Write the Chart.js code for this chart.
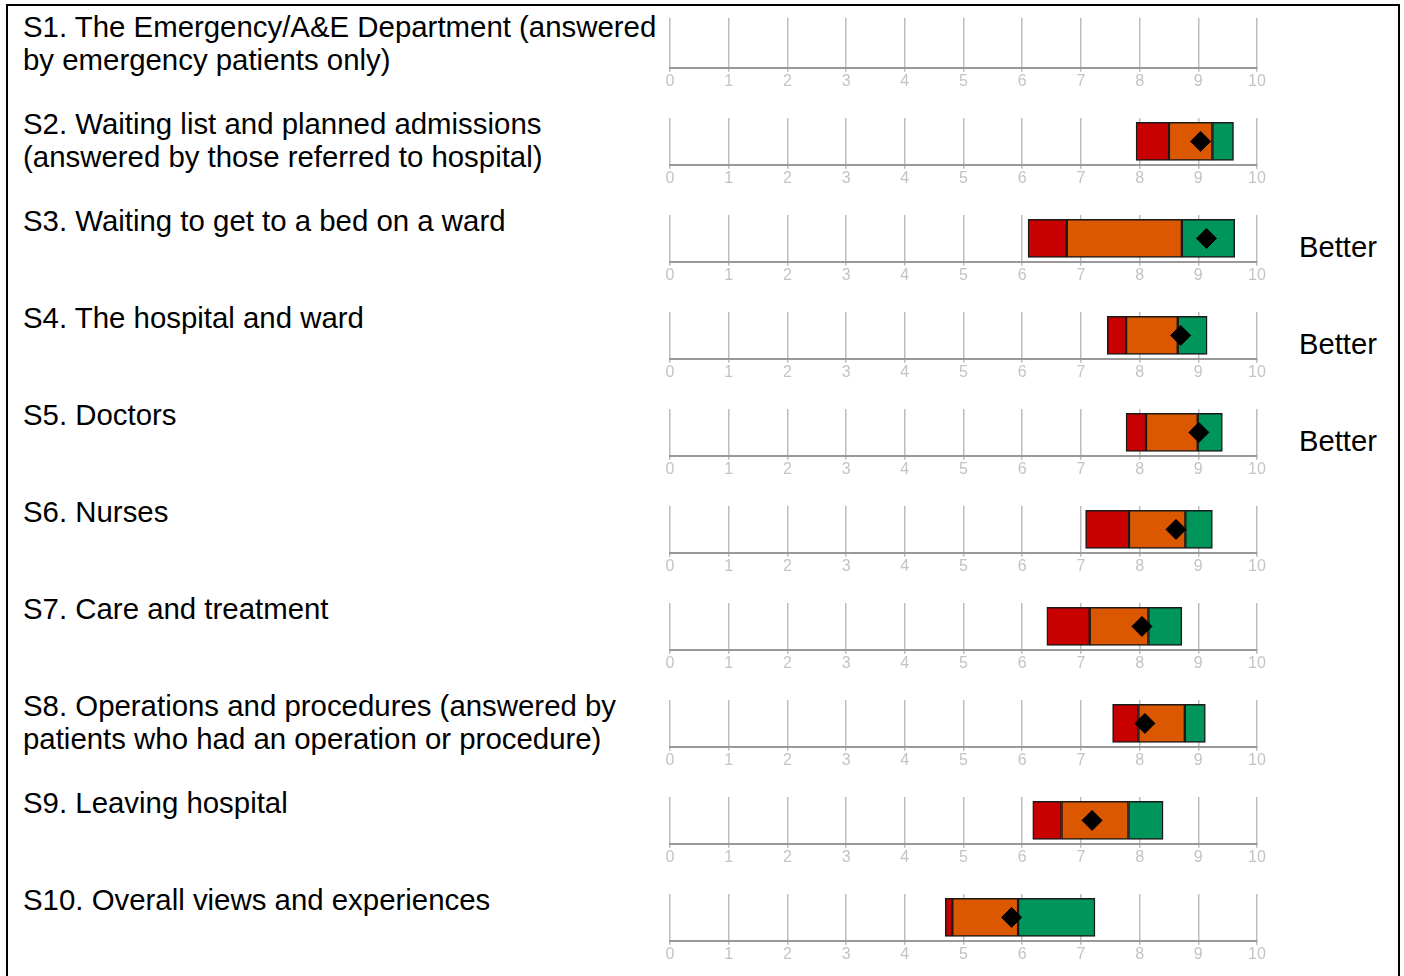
<!DOCTYPE html>
<html>
<head>
<meta charset="utf-8">
<script src="https://cdn.jsdelivr.net/npm/chart.js@4/dist/chart.umd.min.js"></script>
<style>
  html, body { margin: 0; padding: 0; background: #fff; }
  body { width: 1404px; height: 976px; position: relative; overflow: hidden; font-family: "Liberation Sans", Arial, sans-serif; }
  #frame { position: absolute; left: 6px; top: 4px; width: 1394px; height: 1000px; border: 2px solid #000; box-sizing: border-box; }
  .label { position: absolute; left: 23px; font-size: 29.4px; line-height: 33px; color: #000; white-space: nowrap; }
  .verdict { position: absolute; left: 1299px; font-size: 29.2px; line-height: 33px; color: #000; }
  .row-chart { position: absolute; left: 645px; width: 640px; height: 88px; }
</style>
</head>
<body>
<div id="frame"></div>
<div id="rows"></div>
<script>
// Section titles (each entry = lines as printed)
const sections = [
  ['S1. The Emergency/A&E Department (answered', 'by emergency patients only)'],
  ['S2. Waiting list and planned admissions', '(answered by those referred to hospital)'],
  ['S3. Waiting to get to a bed on a ward'],
  ['S4. The hospital and ward'],
  ['S5. Doctors'],
  ['S6. Nurses'],
  ['S7. Care and treatment'],
  ['S8. Operations and procedures (answered by', 'patients who had an operation or procedure)'],
  ['S9. Leaving hospital'],
  ['S10. Overall views and experiences'],
];

// Band edges on the 0-10 scale (S1 has no data)
const redStart    = [null, 7.94, 6.10, 7.45, 7.77, 7.08, 6.42, 7.54, 6.18, 4.69];
const orangeStart = [null, 8.50, 6.76, 7.77, 8.11, 7.82, 7.15, 7.98, 6.67, 4.81];
const greenStart  = [null, 9.24, 8.72, 8.65, 8.99, 8.78, 8.15, 8.77, 7.81, 5.93];
const greenEnd    = [null, 9.60, 9.62, 9.15, 9.41, 9.24, 8.72, 9.12, 8.40, 7.24];
const trustScore  = [null, 9.04, 9.14, 8.70, 9.01, 8.62, 8.04, 8.09, 7.19, 5.82];
const verdicts    = ['', '', 'Better', 'Better', 'Better', '', '', '', '', ''];

const xMin = 0, xMax = 10, xStep = 1;

const ROW_TOP = 18, ROW_PITCH = 97.1;
const RED = '#c80000', ORANGE = '#db5700', GREEN = '#00955a';

const rowsEl = document.getElementById('rows');

sections.forEach((lines, i) => {
  const top = ROW_TOP + ROW_PITCH * i;

  const lab = document.createElement('div');
  lab.className = 'label';
  lab.style.top = (top - 8.5) + 'px';
  lab.innerHTML = lines.join('<br>');
  rowsEl.appendChild(lab);

  if (verdicts[i]) {
    const v = document.createElement('div');
    v.className = 'verdict';
    v.style.top = (top + 35 - 16.5) + 'px';
    v.textContent = verdicts[i];
    rowsEl.appendChild(v);
  }

  const canvas = document.createElement('canvas');
  canvas.className = 'row-chart';
  canvas.style.top = (top - 8.5) + 'px';
  canvas.width = 640;
  canvas.height = 88;
  rowsEl.appendChild(canvas);

  const datasets = [];
  if (trustScore[i] != null) {
    datasets.push({
      type: 'line',
      indexAxis: 'y',
      data: [trustScore[i]],
      showLine: false,
      pointStyle: 'rectRot',
      pointRadius: 10,
      pointHoverRadius: 10,
      pointBackgroundColor: '#000',
      pointBorderColor: '#000',
      pointBorderWidth: 1,
      order: 0,
    });
    const bands = [
      [redStart[i], orangeStart[i], RED],
      [orangeStart[i], greenStart[i], ORANGE],
      [greenStart[i], greenEnd[i], GREEN],
    ];
    bands.forEach(([a, b, c]) => {
      datasets.push({
        type: 'bar',
        data: [[a, b]],
        backgroundColor: c,
        borderColor: '#1a1a1a',
        borderWidth: 1.5,
        borderSkipped: false,
        barThickness: 38,
        grouped: false,
        order: 1,
      });
    });
  }

  new Chart(canvas.getContext('2d'), {
    type: 'bar',
    data: { labels: [sections[i][0]], datasets },
    options: {
      indexAxis: 'y',
      responsive: false,
      animation: false,
      events: [],
      layout: { padding: { left: 25, right: 28, top: 8, bottom: 7 } },
      plugins: { legend: { display: false }, tooltip: { enabled: false } },
      scales: {
        x: {
          type: 'linear',
          min: xMin,
          max: xMax,
          ticks: { stepSize: xStep, color: '#c4c4c4', font: { family: 'Liberation Sans', size: 16 }, padding: 0 },
          grid: { color: '#bdbdbd', lineWidth: 1.5, tickLength: 4 },
          border: { display: true, color: '#999', width: 2 },
        },
        y: { display: false },
      },
    },
  });
});
</script>
</body>
</html>
